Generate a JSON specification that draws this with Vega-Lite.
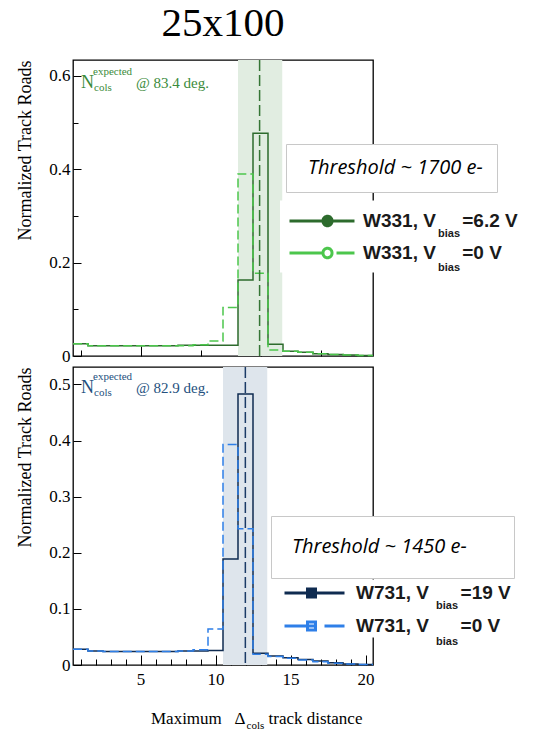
{
  "$schema": "https://vega.github.io/schema/vega-lite/v6.json",
  "padding": {"left": 16, "top": 2, "right": 0, "bottom": 0},
  "background": "white",
  "config": {
    "view": {"stroke": "black", "strokeWidth": 1.3},
    "axis": {"domain": false, "grid": false, "zindex": 1, "labelFont": "Liberation Serif", "labelFontSize": 17, "labelColor": "black", "tickColor": "black", "tickWidth": 1, "labelOverlap": false, "titleFont": "Liberation Serif", "titleFontSize": 18, "titleFontWeight": "normal", "titleColor": "black"},
    "legend": {"labelLimit": 500}
  },
  "datasets": {
    "w331": [
      {"s": "6.2 V", "x": 0.5, "v": 0.026}, {"s": "6.2 V", "x": 1.5, "v": 0.022}, {"s": "6.2 V", "x": 2.5, "v": 0.022}, {"s": "6.2 V", "x": 3.5, "v": 0.022}, {"s": "6.2 V", "x": 4.5, "v": 0.022}, {"s": "6.2 V", "x": 5.5, "v": 0.022}, {"s": "6.2 V", "x": 6.5, "v": 0.022}, {"s": "6.2 V", "x": 7.5, "v": 0.023}, {"s": "6.2 V", "x": 8.5, "v": 0.023}, {"s": "6.2 V", "x": 9.5, "v": 0.023}, {"s": "6.2 V", "x": 10.5, "v": 0.023}, {"s": "6.2 V", "x": 11.5, "v": 0.163}, {"s": "6.2 V", "x": 12.5, "v": 0.477}, {"s": "6.2 V", "x": 13.5, "v": 0.025}, {"s": "6.2 V", "x": 14.5, "v": 0.010}, {"s": "6.2 V", "x": 15.5, "v": 0.008}, {"s": "6.2 V", "x": 16.5, "v": 0.005}, {"s": "6.2 V", "x": 17.5, "v": 0.003}, {"s": "6.2 V", "x": 18.5, "v": 0.002}, {"s": "6.2 V", "x": 19.5, "v": 0.001}, {"s": "6.2 V", "x": 20.5, "v": 0.001},
      {"s": "0 V", "x": 0.5, "v": 0.026}, {"s": "0 V", "x": 1.5, "v": 0.022}, {"s": "0 V", "x": 2.5, "v": 0.022}, {"s": "0 V", "x": 3.5, "v": 0.022}, {"s": "0 V", "x": 4.5, "v": 0.022}, {"s": "0 V", "x": 5.5, "v": 0.022}, {"s": "0 V", "x": 6.5, "v": 0.022}, {"s": "0 V", "x": 7.5, "v": 0.022}, {"s": "0 V", "x": 8.5, "v": 0.024}, {"s": "0 V", "x": 9.5, "v": 0.032}, {"s": "0 V", "x": 10.5, "v": 0.104}, {"s": "0 V", "x": 11.5, "v": 0.390}, {"s": "0 V", "x": 12.5, "v": 0.177}, {"s": "0 V", "x": 13.5, "v": 0.013}, {"s": "0 V", "x": 14.5, "v": 0.010}, {"s": "0 V", "x": 15.5, "v": 0.008}, {"s": "0 V", "x": 16.5, "v": 0.005}, {"s": "0 V", "x": 17.5, "v": 0.003}, {"s": "0 V", "x": 18.5, "v": 0.002}, {"s": "0 V", "x": 19.5, "v": 0.001}, {"s": "0 V", "x": 20.5, "v": 0.001}
    ],
    "w731": [
      {"s": "19 V", "x": 0.5, "v": 0.028}, {"s": "19 V", "x": 1.5, "v": 0.025}, {"s": "19 V", "x": 2.5, "v": 0.024}, {"s": "19 V", "x": 3.5, "v": 0.024}, {"s": "19 V", "x": 4.5, "v": 0.024}, {"s": "19 V", "x": 5.5, "v": 0.024}, {"s": "19 V", "x": 6.5, "v": 0.024}, {"s": "19 V", "x": 7.5, "v": 0.025}, {"s": "19 V", "x": 8.5, "v": 0.025}, {"s": "19 V", "x": 9.5, "v": 0.026}, {"s": "19 V", "x": 10.5, "v": 0.189}, {"s": "19 V", "x": 11.5, "v": 0.483}, {"s": "19 V", "x": 12.5, "v": 0.021}, {"s": "19 V", "x": 13.5, "v": 0.016}, {"s": "19 V", "x": 14.5, "v": 0.013}, {"s": "19 V", "x": 15.5, "v": 0.010}, {"s": "19 V", "x": 16.5, "v": 0.007}, {"s": "19 V", "x": 17.5, "v": 0.004}, {"s": "19 V", "x": 18.5, "v": 0.002}, {"s": "19 V", "x": 19.5, "v": 0.001}, {"s": "19 V", "x": 20.5, "v": 0.001},
      {"s": "0 V", "x": 0.5, "v": 0.028}, {"s": "0 V", "x": 1.5, "v": 0.025}, {"s": "0 V", "x": 2.5, "v": 0.024}, {"s": "0 V", "x": 3.5, "v": 0.024}, {"s": "0 V", "x": 4.5, "v": 0.024}, {"s": "0 V", "x": 5.5, "v": 0.024}, {"s": "0 V", "x": 6.5, "v": 0.024}, {"s": "0 V", "x": 7.5, "v": 0.025}, {"s": "0 V", "x": 8.5, "v": 0.027}, {"s": "0 V", "x": 9.5, "v": 0.064}, {"s": "0 V", "x": 10.5, "v": 0.393}, {"s": "0 V", "x": 11.5, "v": 0.243}, {"s": "0 V", "x": 12.5, "v": 0.019}, {"s": "0 V", "x": 13.5, "v": 0.015}, {"s": "0 V", "x": 14.5, "v": 0.012}, {"s": "0 V", "x": 15.5, "v": 0.009}, {"s": "0 V", "x": 16.5, "v": 0.006}, {"s": "0 V", "x": 17.5, "v": 0.003}, {"s": "0 V", "x": 18.5, "v": 0.002}, {"s": "0 V", "x": 19.5, "v": 0.001}, {"s": "0 V", "x": 20.5, "v": 0.001}
    ],
    "exp331": [{"lo": 11.5, "hi": 14.45, "expected": 12.94}],
    "exp731": [{"lo": 10.5, "hi": 13.45, "expected": 11.99}]
  },
  "spacing": 11,
  "bounds": "flush",
  "resolve": {"scale": {"color": "independent", "fill": "independent", "shape": "independent"}},
  "vconcat": [
    {
      "width": 300,
      "height": 296,
      "title": {"text": "25x100", "font": "Liberation Serif", "fontSize": 41, "fontWeight": "normal", "color": "black", "anchor": "middle", "frame": "group", "offset": 14},
      "layer": [
        {
          "data": {"name": "exp331"},
          "mark": {"type": "rect", "color": "#e1ede1"},
          "encoding": {
            "x": {"field": "lo", "type": "quantitative", "scale": {"domain": [0.5, 20.5], "nice": false, "zero": false},
              "axis": {"title": null, "labels": false, "labelOverlap": false, "values": [1,2,3,4,5,6,7,8,9,10,11,12,13,14,15,16,17,18,19,20], "tickSize": {"condition": {"test": "datum.value % 5 === 0", "value": -10}, "value": -6}}},
            "x2": {"field": "hi"}
          }
        },
        {
          "data": {"name": "w331"},
          "transform": [{"filter": "datum.s === '6.2 V'"}],
          "mark": {"type": "line", "interpolate": "step-after", "strokeWidth": 1.5},
          "encoding": {
            "x": {"field": "x", "type": "quantitative", "scale": {"domain": [0.5, 20.5], "nice": false, "zero": false}},
            "y": {"field": "v", "type": "quantitative", "scale": {"domain": [0, 0.634], "nice": false, "zero": false},
              "axis": {"title": "Normalized Track Roads", "titleAnchor": "end", "titlePadding": 14, "format": "~g", "labelOverlap": false, "values": [0,0.05,0.1,0.15,0.2,0.25,0.3,0.35,0.4,0.45,0.5,0.55,0.6], "labelExpr": "indexof([0,0.2,0.4,0.6], datum.value) >= 0 ? datum.label : ''", "labelPadding": 11, "tickSize": {"condition": {"test": "indexof([0,0.2,0.4,0.6], datum.value) >= 0", "value": -8}, "value": -5}}},
            "color": {"field": "s", "type": "nominal", "scale": {"domain": ["6.2 V", "0 V"], "range": ["#2d6b2d", "#4cc64c"]},
              "legend": {"orient": "none", "legendX": 207, "legendY": 140.5, "title": null, "fillColor": "white", "padding": 8, "rowPadding": 8, "symbolType": "M-1,0H4.909", "symbolSize": 484, "symbolStrokeWidth": 3, "symbolDash": [1, 0], "labelFont": "Liberation Sans", "labelFontWeight": "bold", "labelFontSize": 19, "labelColor": "#1a1a1a", "labelOffset": 50, "labelLimit": 500,
                "labelExpr": "'W331, V\u00a0\u00a0\u00a0\u00a0\u00a0=' + datum.label",
                "encoding": {"symbols": {
                  "shape": {"condition": {"test": "datum.value === '0 V'", "value": "M-1,0H2.045M3.273,0H4.909M2.864,0A0.41,0.41,0,1,1,2.045,0A0.41,0.41,0,1,1,2.864,0Z"}, "value": "M-1,0H2.045M2.864,0H4.909M2.864,0A0.41,0.41,0,1,1,2.045,0A0.41,0.41,0,1,1,2.864,0Z"},
                  "fill": {"condition": {"test": "datum.value === '0 V'", "value": "white"}, "value": "#2d6b2d"},
                  "strokeDash": {"value": [1, 0]}
                }}}}
          }
        },
        {
          "data": {"name": "w331"},
          "transform": [{"filter": "datum.s === '0 V'"}],
          "mark": {"type": "line", "interpolate": "step-after", "strokeWidth": 1.5, "strokeDash": [9, 4]},
          "encoding": {
            "x": {"field": "x", "type": "quantitative"},
            "y": {"field": "v", "type": "quantitative"},
            "color": {"field": "s", "type": "nominal", "legend": null}
          }
        },
        {
          "data": {"name": "exp331"},
          "mark": {"type": "rule", "color": "#357535", "strokeWidth": 1.5, "strokeDash": [11, 4]},
          "encoding": {"x": {"field": "expected", "type": "quantitative"}}
        },
        {"data": {"values": [{}]}, "mark": {"type": "text", "text": "N", "align": "left", "baseline": "alphabetic", "dx": 8, "dy": 28, "font": "Liberation Serif", "fontSize": 18, "color": "#3b8b3b"}, "encoding": {"x": {"datum": 0.5}, "y": {"datum": 0.634}}},
        {"data": {"values": [{}]}, "mark": {"type": "text", "text": "expected", "align": "left", "baseline": "alphabetic", "dx": 20, "dy": 15, "font": "Liberation Serif", "fontSize": 11, "color": "#3b8b3b"}, "encoding": {"x": {"datum": 0.5}, "y": {"datum": 0.634}}},
        {"data": {"values": [{}]}, "mark": {"type": "text", "text": "cols", "align": "left", "baseline": "alphabetic", "dx": 21, "dy": 31, "font": "Liberation Serif", "fontSize": 11, "color": "#3b8b3b"}, "encoding": {"x": {"datum": 0.5}, "y": {"datum": 0.634}}},
        {"data": {"values": [{}]}, "mark": {"type": "text", "text": "@ 83.4 deg.", "align": "left", "baseline": "alphabetic", "dx": 63, "dy": 28, "font": "Liberation Serif", "fontSize": 15, "color": "#3b8b3b"}, "encoding": {"x": {"datum": 0.5}, "y": {"datum": 0.634}}},
        {
          "data": {"name": "w331"},
          "mark": {"type": "point", "opacity": 0},
          "encoding": {
            "shape": {"datum": "Threshold ~ 1700 e-", "type": "nominal",
              "legend": {"orient": "none", "legendX": 213, "legendY": 84, "title": null, "fillColor": "white", "strokeColor": "#c8c8c8", "padding": 14, "symbolSize": 0, "symbolStrokeWidth": 0, "symbolOpacity": 0, "labelOffset": -12, "labelFont": "Open Sans", "labelFontStyle": "italic", "labelFontSize": 20, "labelColor": "black", "labelLimit": 500, "labelExpr": "datum.label + '\u00a0\u00a0\u00a0\u00a0\u00a0\u00a0'"}},
            "fill": {"field": "s", "type": "nominal",
              "legend": {"orient": "none", "legendX": 354, "legendY": 168.5, "title": null, "padding": 0, "rowPadding": 22, "symbolSize": 0, "symbolStrokeWidth": 0, "symbolOpacity": 0, "labelOffset": 0, "labelFont": "Liberation Sans", "labelFontWeight": "bold", "labelFontSize": 11, "labelColor": "#1a1a1a", "labelExpr": "'bias'"}}
          }
        }
      ]
    },
    {
      "width": 300,
      "height": 298,
      "resolve": {"axis": {"x": "independent"}},
      "layer": [
        {
          "data": {"name": "exp731"},
          "mark": {"type": "rect", "color": "#dee5ec"},
          "encoding": {
            "x": {"field": "lo", "type": "quantitative", "scale": {"domain": [0.5, 20.5], "nice": false, "zero": false},
              "axis": {"orient": "bottom", "title": null, "labels": false, "values": [1,2,3,4,6,7,8,9,11,12,13,14,16,17,18,19], "tickSize": -6}},
            "x2": {"field": "hi"}
          }
        },
        {
          "data": {"name": "w731"},
          "transform": [{"filter": "datum.s === '19 V'"}],
          "mark": {"type": "line", "interpolate": "step-after", "strokeWidth": 1.5},
          "encoding": {
            "x": {"field": "x", "type": "quantitative", "scale": {"domain": [0.5, 20.5], "nice": false, "zero": false},
              "axis": {"orient": "bottom", "title": null, "labelOverlap": false, "labelFlush": false, "values": [5, 10, 15, 20], "labelPadding": 16, "tickSize": -10}},
            "y": {"field": "v", "type": "quantitative", "scale": {"domain": [0, 0.531], "nice": false, "zero": false},
              "axis": {"title": "Normalized Track Roads", "titleAnchor": "end", "titlePadding": 14, "format": "~g", "labelOverlap": false, "values": [0,0.025,0.05,0.075,0.1,0.125,0.15,0.175,0.2,0.225,0.25,0.275,0.3,0.325,0.35,0.375,0.4,0.425,0.45,0.475,0.5,0.525], "labelExpr": "indexof([0,0.1,0.2,0.3,0.4,0.5], datum.value) >= 0 ? datum.label : ''", "labelPadding": 11, "tickSize": {"condition": {"test": "indexof([0,0.1,0.2,0.3,0.4,0.5], datum.value) >= 0", "value": -8}, "value": -5}}},
            "color": {"field": "s", "type": "nominal", "scale": {"domain": ["19 V", "0 V"], "range": ["#0f2b50", "#2e7fe8"]},
              "legend": {"orient": "none", "legendX": 209, "legendY": 212.5, "title": null, "fillColor": "white", "padding": 1, "rowPadding": 10, "symbolType": "M-1,0H4.455", "symbolSize": 484, "symbolStrokeWidth": 3, "symbolDash": [1, 0], "labelFont": "Liberation Sans", "labelFontWeight": "bold", "labelFontSize": 19, "labelColor": "#1a1a1a", "labelOffset": 48, "labelLimit": 500,
                "labelExpr": "'W731, V\u00a0\u00a0\u00a0\u00a0\u00a0\u00a0=' + datum.label",
                "encoding": {"symbols": {
                  "shape": {"condition": {"test": "datum.value === '0 V'", "value": "M-1,0H1.818M2.636,0H4.455M1.091,-0.364H1.818V0.364H1.091Z"}, "value": "M-1,0H1.091M1.818,0H4.455M1.091,-0.364H1.818V0.364H1.091Z"},
                  "fill": {"condition": {"test": "datum.value === '0 V'", "value": "white"}, "value": "#0f2b50"},
                  "strokeDash": {"value": [1, 0]}
                }}}}
          }
        },
        {
          "data": {"name": "w731"},
          "transform": [{"filter": "datum.s === '0 V'"}],
          "mark": {"type": "line", "interpolate": "step-after", "strokeWidth": 1.5, "strokeDash": [9, 4]},
          "encoding": {
            "x": {"field": "x", "type": "quantitative", "axis": null},
            "y": {"field": "v", "type": "quantitative"},
            "color": {"field": "s", "type": "nominal", "legend": null}
          }
        },
        {
          "data": {"name": "exp731"},
          "mark": {"type": "rule", "color": "#1b3b66", "strokeWidth": 1.5, "strokeDash": [11, 4]},
          "encoding": {"x": {"field": "expected", "type": "quantitative", "axis": null}}
        },
        {"data": {"values": [{}]}, "mark": {"type": "text", "text": "N", "align": "left", "baseline": "alphabetic", "dx": 8, "dy": 26, "font": "Liberation Serif", "fontSize": 18, "color": "#24507e"}, "encoding": {"x": {"datum": 0.5, "axis": null}, "y": {"datum": 0.531}}},
        {"data": {"values": [{}]}, "mark": {"type": "text", "text": "expected", "align": "left", "baseline": "alphabetic", "dx": 20, "dy": 13, "font": "Liberation Serif", "fontSize": 11, "color": "#24507e"}, "encoding": {"x": {"datum": 0.5, "axis": null}, "y": {"datum": 0.531}}},
        {"data": {"values": [{}]}, "mark": {"type": "text", "text": "cols", "align": "left", "baseline": "alphabetic", "dx": 21, "dy": 29, "font": "Liberation Serif", "fontSize": 11, "color": "#24507e"}, "encoding": {"x": {"datum": 0.5, "axis": null}, "y": {"datum": 0.531}}},
        {"data": {"values": [{}]}, "mark": {"type": "text", "text": "@ 82.9 deg.", "align": "left", "baseline": "alphabetic", "dx": 63, "dy": 26, "font": "Liberation Serif", "fontSize": 15, "color": "#24507e"}, "encoding": {"x": {"datum": 0.5, "axis": null}, "y": {"datum": 0.531}}},
        {"data": {"values": [{}]}, "mark": {"type": "text", "text": "Maximum\u00a0\u00a0\u00a0Δ", "align": "right", "baseline": "alphabetic", "dx": 0, "dy": 59, "font": "Liberation Serif", "fontSize": 17, "color": "black"}, "encoding": {"x": {"datum": 12, "axis": null}, "y": {"datum": 0}}},
        {"data": {"values": [{}]}, "mark": {"type": "text", "text": "cols", "align": "left", "baseline": "alphabetic", "dx": 1, "dy": 64, "font": "Liberation Serif", "fontSize": 11, "color": "black"}, "encoding": {"x": {"datum": 12, "axis": null}, "y": {"datum": 0}}},
        {"data": {"values": [{}]}, "mark": {"type": "text", "text": "track distance", "align": "left", "baseline": "alphabetic", "dx": 23, "dy": 59, "font": "Liberation Serif", "fontSize": 17, "color": "black"}, "encoding": {"x": {"datum": 12, "axis": null}, "y": {"datum": 0}}},
        {
          "data": {"name": "w731"},
          "mark": {"type": "point", "opacity": 0},
          "encoding": {
            "shape": {"datum": "Threshold ~ 1450 e-", "type": "nominal",
              "legend": {"orient": "none", "legendX": 198, "legendY": 149, "title": null, "fillColor": "white", "strokeColor": "#c8c8c8", "padding": 21, "symbolSize": 0, "symbolStrokeWidth": 0, "symbolOpacity": 0, "labelOffset": -20, "labelFont": "Open Sans", "labelFontStyle": "italic", "labelFontSize": 20, "labelColor": "black", "labelLimit": 500, "labelExpr": "datum.label + '\u00a0\u00a0\u2800'"}},
            "fill": {"field": "s", "type": "nominal",
              "legend": {"orient": "none", "legendX": 352, "legendY": 233.5, "title": null, "padding": 0, "rowPadding": 24, "symbolSize": 0, "symbolStrokeWidth": 0, "symbolOpacity": 0, "labelOffset": 0, "labelFont": "Liberation Sans", "labelFontWeight": "bold", "labelFontSize": 11, "labelColor": "#1a1a1a", "labelExpr": "'bias'"}}
          }
        }
      ]
    }
  ]
}
